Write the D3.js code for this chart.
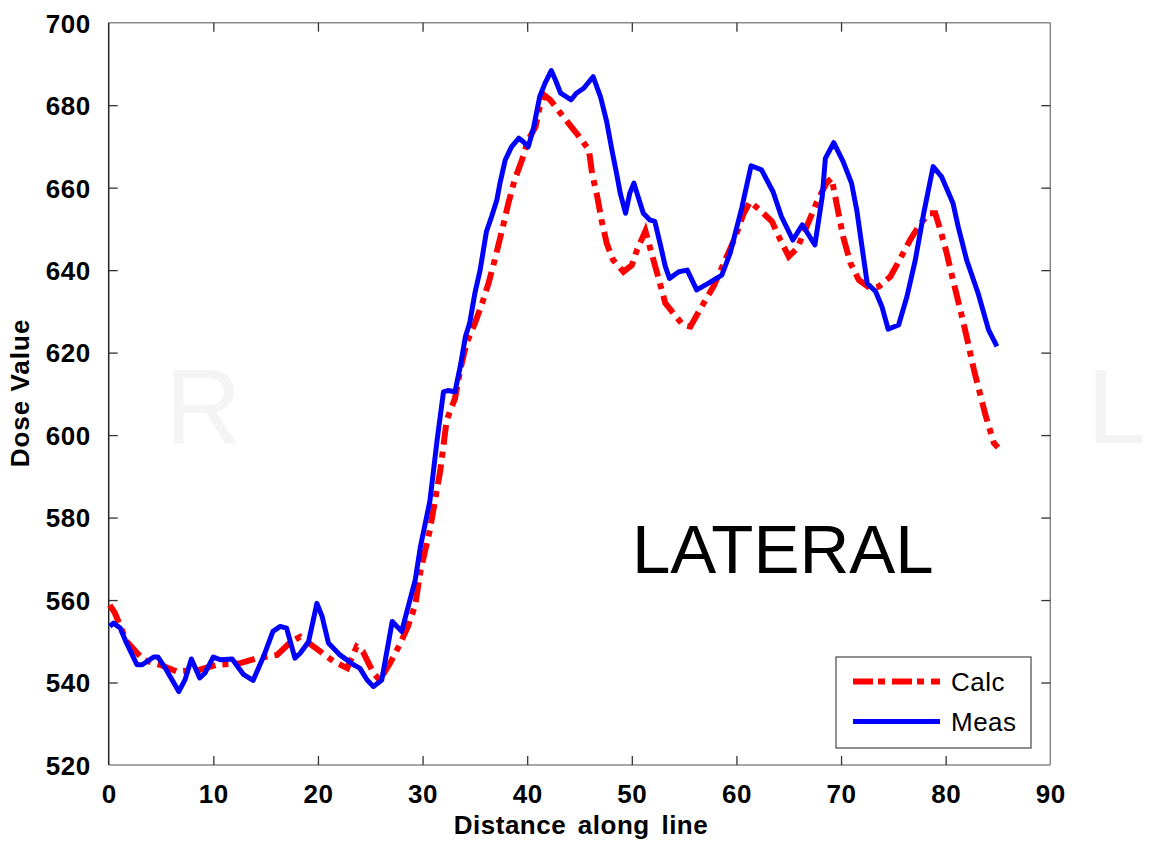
<!DOCTYPE html>
<html><head><meta charset="utf-8">
<script src="https://cdn.jsdelivr.net/npm/d3@7/dist/d3.min.js"></script>
<style>body{margin:0;background:#fff}svg{display:block}text{font-family:Arial,"Liberation Sans",sans-serif}</style>
</head><body>
<script>
const xTicks=[0,10,20,30,40,50,60,70,80,90];
const yTicks=[520,540,560,580,600,620,640,660,680,700];
const seriesNames=["Calc","Meas"];
const measX=[0.1,0.45,1.1,1.7,2.7,3.2,4.3,4.7,5.5,6.7,7.3,7.9,8.7,9.2,10.0,10.7,11.8,12.9,13.8,14.8,15.7,16.4,17.0,17.8,18.3,19.1,19.9,20.4,21.0,22.1,23.4,24.0,24.7,25.3,26.1,27.1,28.0,28.5,29.3,29.8,30.7,31.4,32.0,32.4,33.1,33.6,34.1,34.5,35.0,35.5,36.1,36.6,37.1,37.4,37.9,38.5,39.2,39.6,40.1,40.6,41.2,41.7,42.3,42.7,43.2,44.2,44.7,45.4,46.3,47.0,47.6,48.1,48.6,48.9,49.4,49.8,50.2,50.6,51.1,51.7,52.2,52.7,53.2,53.6,54.5,55.3,56.2,57.3,58.6,59.4,60.5,61.4,62.4,63.5,64.3,65.4,66.3,67.5,68.2,68.5,69.3,70.2,71.0,71.5,72.0,72.5,73.3,73.9,74.5,75.5,76.3,77.1,77.9,78.8,79.6,80.7,81.2,82.0,83.1,84.1,84.9];
const measY=[553.6,554.4,553.2,549.6,544.3,544.3,546.2,546.2,543.1,537.8,540.7,545.7,541.1,542.3,546.2,545.5,545.7,541.9,540.5,546.3,552.4,553.6,553.2,545.9,547.1,549.9,559.2,556.0,549.6,546.7,544.3,543.5,540.6,539.0,540.6,554.8,552.4,557.2,564.9,573,584,599,610.5,610.8,610.5,616.6,623.9,627.1,634.4,640.0,649.3,653.0,657.0,661.1,666.7,669.9,672.0,671.2,669.9,674.4,682.1,685.3,688.4,686.1,682.9,681.3,682.9,684.1,686.9,682.1,676.0,669.1,662.7,658.6,653.8,658.6,661.1,657.8,653.8,652.2,651.8,646.5,640.9,638.0,639.6,640.0,635.2,636.8,638.8,644.1,655.0,665.3,664.3,659.0,653.0,647.3,651.0,646.1,657.8,667.1,670.9,666.3,661.1,654.6,645.7,636.8,634.8,631.2,625.7,626.7,633.6,642.5,653.8,665.1,662.7,656.2,650.5,642.5,634.4,625.5,621.5];
const calcX=[0.1,0.6,1.7,3.3,4.9,6.5,8.7,10.3,12.6,14.2,16.1,17.3,18.3,19.6,21.5,22.8,23.7,24.3,25.3,25.9,26.9,27.9,28.6,29.3,29.8,30.7,31.7,32.3,33.1,33.6,34.2,35.0,35.7,36.3,36.9,37.6,38.2,38.8,39.5,40.1,40.8,41.2,41.6,42.2,43.2,44.2,45.1,45.9,46.2,46.7,47.1,47.6,48.2,49.2,50.0,50.5,51.3,51.8,52.6,53.2,53.7,54.9,55.6,56.5,57.8,58.8,59.9,60.7,61.3,62.4,63.4,64.2,65.0,65.8,66.7,67.7,68.6,69.1,69.6,70.2,70.9,71.7,72.8,73.6,74.7,75.6,76.6,77.6,78.5,79.0,79.5,80.1,80.7,81.4,82.0,82.7,83.8,84.6,85.0];
const calcY=[558.8,556.8,550,545.5,544.3,542.7,543.1,544.3,544.7,545.9,546.7,549.6,551.1,548.7,545.1,543.5,548.7,547.5,542.3,540.6,544.7,549.6,553.6,558.8,567,577,591.5,603.6,608.9,615.8,622.3,627.1,632.0,636.8,642.5,649.7,656.2,661.9,666.7,671.6,674.8,679.6,682.5,681.3,678.0,674.8,672.0,669.1,663.5,657.8,652.2,646.5,642.5,639.6,641.2,644.9,649.5,644.9,637.6,632.0,630.4,626.7,626.3,630.4,636.0,641.7,648.1,653.8,656.6,654.2,651.8,647.3,643.3,645.3,650.5,656.6,661.1,662.3,655.8,648.1,641.7,637.6,635.6,636.0,638.4,642.5,647.3,651.4,653.8,653.8,649.7,644.1,637.6,630.4,623.9,615.8,604.9,598.1,597.0];

const W=1149,H=845;
const L=108.7,R=1050.3,T=22.7,B=765;
const svg=d3.select("body").append("svg").attr("width",W).attr("height",H);
const x=d3.scaleLinear().domain([0,90]).range([L,R]);
const y=d3.scaleLinear().domain([520,700]).range([B,T]);

// watermark letters
svg.append("text").attr("x",165).attr("y",443).attr("font-size",106).attr("fill","#f4f4f4").text("R");
svg.append("text").attr("x",1087).attr("y",443).attr("font-size",106).attr("fill","#f4f4f4").text("L");

// frame
svg.append("line").attr("x1",L).attr("x2",R).attr("y1",T).attr("y2",T).attr("stroke","#8a8a8a").attr("stroke-width",1.5);
svg.append("line").attr("x1",R).attr("x2",R).attr("y1",T).attr("y2",B).attr("stroke","#8a8a8a").attr("stroke-width",1.5);
svg.append("line").attr("x1",L).attr("x2",R).attr("y1",B).attr("y2",B).attr("stroke","#8a8a8a").attr("stroke-width",1.5);
svg.append("line").attr("x1",L).attr("x2",L).attr("y1",T).attr("y2",B).attr("stroke","#222").attr("stroke-width",1.5);

// axes via d3
const fmt=d3.format("d");
const ax=svg.append("g").attr("transform",`translate(0,${B})`).call(d3.axisBottom(x).tickValues(xTicks).tickFormat(fmt).tickSizeInner(-9).tickSizeOuter(0).tickPadding(20));
const ay=svg.append("g").attr("transform",`translate(${L},0)`).call(d3.axisLeft(y).tickValues(yTicks).tickFormat(fmt).tickSizeInner(-9).tickSizeOuter(0).tickPadding(18));
const at=svg.append("g").attr("transform",`translate(0,${T})`).call(d3.axisTop(x).tickValues(xTicks).tickFormat("").tickSizeInner(-9).tickSizeOuter(0));
const ar=svg.append("g").attr("transform",`translate(${R},0)`).call(d3.axisRight(y).tickValues(yTicks).tickFormat("").tickSizeInner(-9).tickSizeOuter(0));
[ax,ay,at,ar].forEach(g=>{g.select(".domain").remove();g.selectAll(".tick line").attr("stroke","#333").attr("stroke-width",1.3);});
[ax,ay].forEach(g=>g.selectAll(".tick text").attr("font-size",26).attr("font-weight","bold").attr("fill","#000").attr("letter-spacing","0.5px").style("font-family","Arial, 'Liberation Sans', sans-serif"));
ax.selectAll(".tick text").attr("dy","0.71em");
ay.selectAll(".tick text").attr("dy","0.36em");
ax.selectAll(".tick").filter(d=>d===0||d===90).select("line").remove();
at.selectAll(".tick").filter(d=>d===0||d===90).select("line").remove();
ay.selectAll(".tick").filter(d=>d===520||d===700).select("line").remove();
ar.selectAll(".tick").filter(d=>d===520||d===700).select("line").remove();

// labels
svg.append("text").attr("x",581).attr("y",834).attr("text-anchor","middle").attr("font-size",26).attr("font-weight","bold").attr("letter-spacing","0.5px").attr("word-spacing","4px").text("Distance along line");
svg.append("text").attr("transform","translate(29,393) rotate(-90)").attr("text-anchor","middle").attr("font-size",26).attr("font-weight","bold").attr("letter-spacing","1px").text("Dose Value");
svg.append("text").attr("x",632).attr("y",573).attr("font-size",69).attr("fill","#000").text("LATERAL");

// lines
const calc=calcX.map((v,i)=>[v,calcY[i]]);
const meas=measX.map((v,i)=>[v,measY[i]]);
const line=d3.line().x(d=>x(d[0])).y(d=>y(d[1]));
svg.append("path").attr("d",line(calc)).attr("fill","none").attr("stroke","#ff0000").attr("stroke-width",6).attr("stroke-dasharray","20,7,6,7");
svg.append("path").attr("d",line(meas)).attr("fill","none").attr("stroke","#0000ff").attr("stroke-width",5).attr("stroke-linejoin","round");

// legend
const lg=svg.append("g");
lg.append("rect").attr("x",836).attr("y",657).attr("width",195).attr("height",91).attr("fill","#fff").attr("stroke","#555").attr("stroke-width",1.3);
const ly=[681.5,721.5];
lg.append("line").attr("x1",853).attr("x2",940).attr("y1",ly[0]).attr("y2",ly[0]).attr("stroke","#ff0000").attr("stroke-width",6).attr("stroke-dasharray","20,5,7,7");
lg.append("line").attr("x1",853).attr("x2",940).attr("y1",ly[1]).attr("y2",ly[1]).attr("stroke","#0000ff").attr("stroke-width",5);
seriesNames.forEach((n,i)=>lg.append("text").attr("x",951).attr("y",ly[i]).attr("dy","0.36em").attr("font-size",26).attr("letter-spacing","0.5px").text(n));
</script>
</body></html>
